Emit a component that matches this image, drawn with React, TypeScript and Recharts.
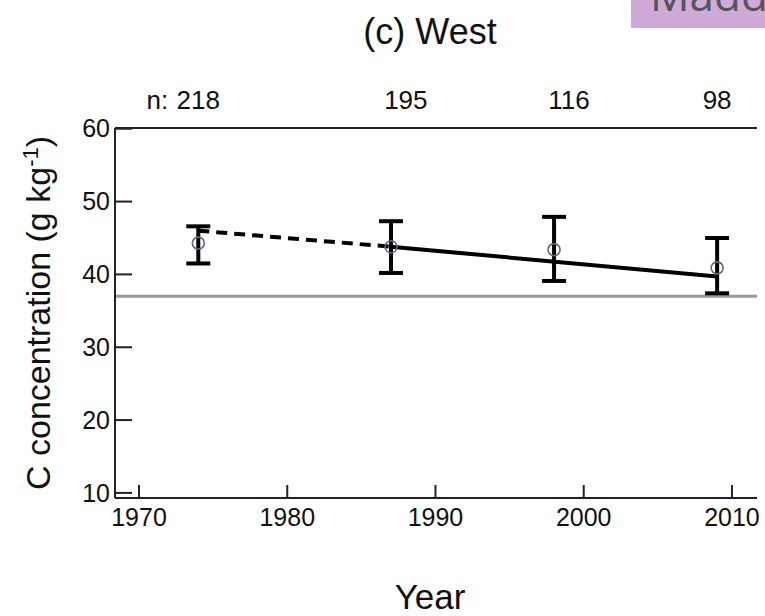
import React from 'react'
import {
  ComposedChart,
  Line,
  Scatter,
  ErrorBar,
  XAxis,
  YAxis,
  ReferenceLine,
  Label,
} from 'recharts'

// survey years and mean C concentration (g/kg) with error bar ends
const years = [1974, 1987, 1998, 2009]
const means = [44.3, 43.8, 43.4, 40.9]
const lows = [41.5, 40.2, 39.1, 37.4]
const highs = [46.6, 47.3, 47.9, 45.0]

// sample sizes printed above the panel
const counts = [218, 195, 116, 98]
const countYears = [1974, 1988, 1999, 2009]

// fitted trends
const dashedYears = [1974, 1987]
const dashedValues = [46.0, 43.8]
const solidYears = [1987, 2009]
const solidValues = [43.8, 39.7]

const baseline = 37.0

const xTicks = [1970, 1980, 1990, 2000, 2010]
const yTicks = [10, 20, 30, 40, 50, 60]

const FONT = '"Liberation Sans", Arial, sans-serif'
const AXIS = '#222'

const points = years.map((x, i) => ({
  x,
  y: means[i],
  err: [means[i] - lows[i], highs[i] - means[i]],
}))
const dashedData = dashedYears.map((x, i) => ({ x, y: dashedValues[i] }))
const solidData = solidYears.map((x, i) => ({ x, y: solidValues[i] }))
// invisible anchors so the top axis has items of its own
const countAnchors = countYears.map((x) => ({ x, y: 60 }))

const YTick = ({ x, y, payload }: any) => (
  <g>
    <line x1={x} x2={x + 17} y1={y} y2={y} stroke={AXIS} strokeWidth={2} />
    <text x={x - 5} y={y} dy="0.35em" textAnchor="end" fontSize={25} fill="#111" fontFamily={FONT}>
      {payload.value}
    </text>
  </g>
)

const XTick = ({ x, y, payload }: any) => (
  <g>
    <line x1={x} x2={x} y1={y} y2={y - 13} stroke={AXIS} strokeWidth={2} />
    <text x={x} y={y + 19} dy="0.35em" textAnchor="middle" fontSize={25} fill="#111" fontFamily={FONT}>
      {payload.value}
    </text>
  </g>
)

const CountTick = ({ x, y, payload }: any) => {
  const i = countYears.indexOf(payload.value)
  return (
    <g fontSize={26} fill="#111" fontFamily={FONT}>
      {i === 0 && (
        <text x={x - 30} y={y - 28} dy="0.35em" textAnchor="end">
          n:
        </text>
      )}
      <text x={x} y={y - 28} dy="0.35em" textAnchor="middle">
        {i >= 0 ? counts[i] : ''}
      </text>
    </g>
  )
}

const Circle = ({ cx, cy }: any) => (
  <circle cx={cx} cy={cy} r={6} fill="none" stroke="#667" strokeWidth={1.6} />
)

const Nothing = () => <g />

const renderTitle = ({ viewBox }: any) => (
  <text
    x={viewBox.x + viewBox.width / 2 - 6}
    y={31}
    dy="0.35em"
    textAnchor="middle"
    fontSize={36}
    fill="#111"
    fontFamily={FONT}
  >
    (c) West
  </text>
)

const renderXLabel = ({ viewBox }: any) => (
  <text
    x={viewBox.x + viewBox.width / 2 - 6}
    y={viewBox.y + 99}
    dy="0.35em"
    textAnchor="middle"
    fontSize={35}
    fill="#111"
    fontFamily={FONT}
  >
    Year
  </text>
)

const renderYLabel = ({ viewBox }: any) => {
  const cx = 38
  const cy = viewBox.y + viewBox.height / 2
  return (
    <text
      x={cx}
      y={cy}
      dy="0.35em"
      textAnchor="middle"
      fontSize={34}
      fill="#111"
      fontFamily={FONT}
      transform={`rotate(-90, ${cx}, ${cy})`}
    >
      C concentration (g kg
      <tspan dy="-12" fontSize={22}>-1</tspan>
      <tspan dy="12">)</tspan>
    </text>
  )
}

export default function App() {
  return (
    <div
      style={{
        position: 'absolute',
        left: 0,
        top: 0,
        width: 765,
        height: 616,
        overflow: 'hidden',
        background: '#fff',
      }}
    >
      <ComposedChart
        width={765}
        height={616}
        margin={{ top: 68, right: 8, bottom: 58, left: 0 }}
      >
        <XAxis
          xAxisId="b"
          type="number"
          dataKey="x"
          domain={[1968.38, 2011.69]}
          ticks={xTicks}
          interval={0}
          allowDataOverflow
          tickLine={false}
          tickSize={0}
          tickMargin={0}
          tick={<XTick />}
          axisLine={{ stroke: AXIS, strokeWidth: 2 }}
          height={60}
        >
          <Label content={renderXLabel} />
        </XAxis>
        <XAxis
          xAxisId="t"
          orientation="top"
          type="number"
          dataKey="x"
          domain={[1968.38, 2011.69]}
          ticks={countYears}
          interval={0}
          allowDataOverflow
          tickLine={false}
          tickSize={0}
          tickMargin={0}
          tick={<CountTick />}
          axisLine={{ stroke: AXIS, strokeWidth: 2 }}
          height={60}
        >
          <Label content={renderTitle} />
        </XAxis>
        <YAxis
          yAxisId="l"
          type="number"
          dataKey="y"
          domain={[9.3, 60.1]}
          ticks={yTicks}
          interval={0}
          allowDataOverflow
          tickLine={false}
          tickSize={0}
          tickMargin={0}
          tick={<YTick />}
          axisLine={{ stroke: AXIS, strokeWidth: 2 }}
          width={115}
        >
          <Label content={renderYLabel} />
        </YAxis>
        <YAxis
          yAxisId="r"
          orientation="right"
          type="number"
          domain={[9.3, 60.1]}
          allowDataOverflow
          tick={false}
          tickLine={false}
          axisLine={{ stroke: AXIS, strokeWidth: 2 }}
          width={0}
        />
        <ReferenceLine xAxisId="b" yAxisId="l" y={baseline} stroke="#999" strokeWidth={3} />
        <Line
          xAxisId="b"
          yAxisId="l"
          data={dashedData}
          dataKey="y"
          stroke="#000"
          strokeWidth={4}
          strokeDasharray="11 7"
          dot={false}
          isAnimationActive={false}
        />
        <Line
          xAxisId="b"
          yAxisId="l"
          data={solidData}
          dataKey="y"
          stroke="#000"
          strokeWidth={4}
          dot={false}
          isAnimationActive={false}
        />
        <Scatter
          xAxisId="t"
          yAxisId="l"
          data={countAnchors}
          dataKey="y"
          shape={<Nothing />}
          isAnimationActive={false}
        />
        <Scatter
          xAxisId="b"
          yAxisId="l"
          data={points}
          dataKey="y"
          shape={<Circle />}
          isAnimationActive={false}
        >
          <ErrorBar dataKey="err" direction="y" width={12} strokeWidth={4} stroke="#000" isAnimationActive={false} />
        </Scatter>
      </ComposedChart>
      <div
        style={{
          position: 'absolute',
          left: 631,
          top: 0,
          width: 134,
          height: 28,
          background: '#cfaad9',
          overflow: 'hidden',
        }}
      >
        <span
          style={{
            position: 'absolute',
            left: 19,
            top: -28,
            fontSize: 44,
            lineHeight: '44px',
            color: '#50565c',
            fontFamily: '"Open Sans", sans-serif',
            whiteSpace: 'nowrap',
          }}
        >
          Madde
        </span>
      </div>
    </div>
  )
}
